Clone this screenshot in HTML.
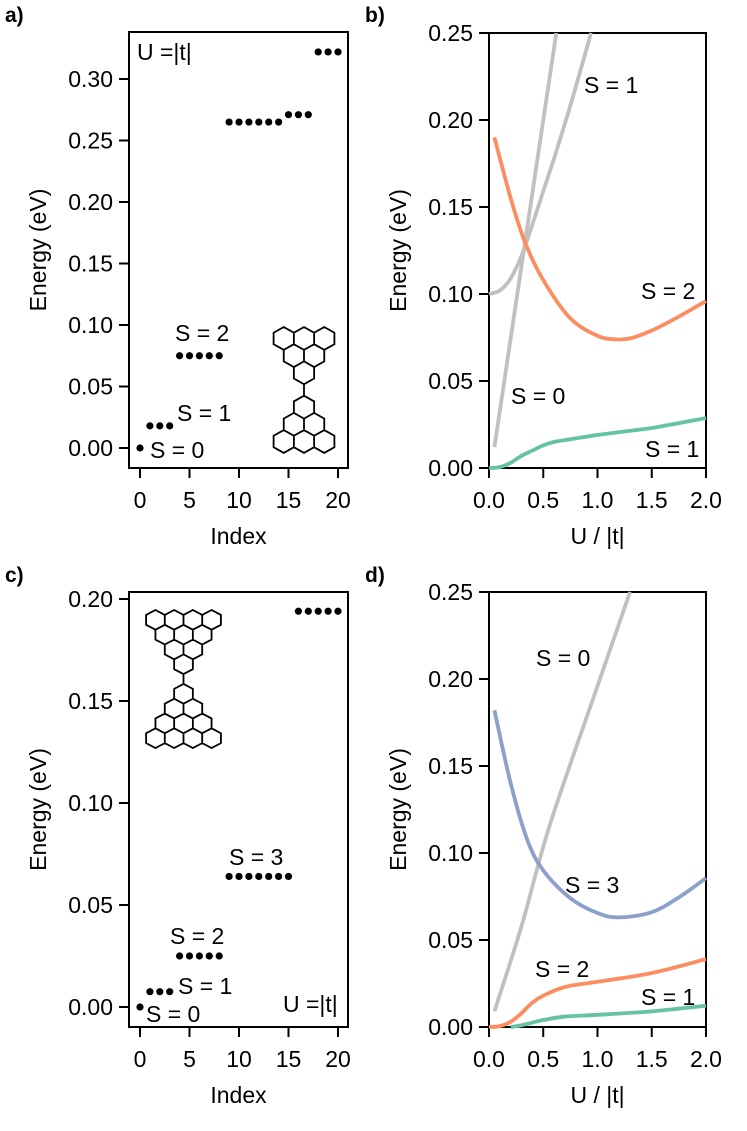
<!DOCTYPE html>
<html><head><meta charset="utf-8">
<style>
html,body{margin:0;padding:0;background:#fff;}
svg{display:block;font-family:"Liberation Sans",Arial,sans-serif;}
</style></head>
<body>
<svg id="fig" width="747" height="1131" viewBox="0 0 747 1131" xmlns="http://www.w3.org/2000/svg">
<g id="root"></g>
</svg>
<script>
// ---------- data ----------
const aIndex = [0,1,2,3,4,5,6,7,8,9,10,11,12,13,14,15,16,17,18,19,20];
const aEnergy = [0,0.018,0.018,0.018,0.075,0.075,0.075,0.075,0.075,0.265,0.265,0.265,0.265,0.265,0.265,0.271,0.271,0.271,0.322,0.322,0.322];
const cIndex = [0,1,2,3,4,5,6,7,8,9,10,11,12,13,14,15,16,17,18,19,20];
const cEnergy = [0,0.0075,0.0075,0.0075,0.025,0.025,0.025,0.025,0.025,0.064,0.064,0.064,0.064,0.064,0.064,0.064,0.194,0.194,0.194,0.194,0.194];

const bGreenU = [0,0.1,0.2,0.3,0.4,0.5,0.6,0.75,1.0,1.25,1.5,1.75,2.0];
const bGreenE = [0,0.0005,0.003,0.007,0.010,0.013,0.015,0.0165,0.019,0.021,0.023,0.0258,0.0287];
const bOrangeU = [0.05,0.2,0.33,0.5,0.75,1.0,1.15,1.3,1.5,1.75,2.0];
const bOrangeE = [0.19,0.155,0.13,0.108,0.086,0.076,0.074,0.0745,0.079,0.087,0.096];
const bGray0U = [0.05,0.62];
const bGray0E = [0.012,0.25];
const bGray1U = [0,0.1,0.2,0.3,0.4,0.5,0.6,0.7,0.8,0.94];
const bGray1E = [0.100,0.102,0.109,0.122,0.140,0.159,0.178,0.198,0.219,0.25];

const dGrayU = [0.05,0.3,0.56,1.0,1.3];
const dGrayE = [0.009,0.058,0.116,0.196,0.25];
const dBlueU = [0.05,0.2,0.35,0.5,0.75,1.0,1.2,1.5,1.75,2.0];
const dBlueE = [0.182,0.14,0.108,0.090,0.074,0.0655,0.063,0.066,0.0745,0.0856];
const dOrangeU = [0,0.1,0.2,0.3,0.4,0.5,0.7,1.0,1.5,2.0];
const dOrangeE = [0,0.0005,0.003,0.008,0.014,0.018,0.023,0.026,0.031,0.039];
const dGreenU = [0.2,0.3,0.5,0.7,1.0,1.5,2.0];
const dGreenE = [0,0.001,0.004,0.006,0.007,0.009,0.0122];

const idxTicks = [0,5,10,15,20];
const aYTicks = ["0.00","0.05","0.10","0.15","0.20","0.25","0.30"];
const cYTicks = ["0.00","0.05","0.10","0.15","0.20"];
const uTicks = ["0.0","0.5","1.0","1.5","2.0"];
const bYTicks = ["0.00","0.05","0.10","0.15","0.20","0.25"];

// ---------- helpers ----------
const NS="http://www.w3.org/2000/svg";
const root=document.getElementById('root');
const FS=23;
function mk(tag,attrs,parent){const e=document.createElementNS(NS,tag);for(const k in attrs)e.setAttribute(k,attrs[k]);(parent||root).appendChild(e);return e;}
function lin(d0,d1,r0,r1){return v=>r0+(v-d0)*(r1-r0)/(d1-d0);}
function smooth(pts){
  if(pts.length<3){return "M"+pts.map(p=>p[0].toFixed(2)+","+p[1].toFixed(2)).join("L");}
  let d="M"+pts[0][0]+","+pts[0][1];
  for(let i=0;i<pts.length-1;i++){
    const p0=pts[Math.max(0,i-1)],p1=pts[i],p2=pts[i+1],p3=pts[Math.min(pts.length-1,i+2)];
    const c1=[p1[0]+(p2[0]-p0[0])/6,p1[1]+(p2[1]-p0[1])/6];
    const c2=[p2[0]-(p3[0]-p1[0])/6,p2[1]-(p3[1]-p1[1])/6];
    d+="C"+c1.join(",")+" "+c2.join(",")+" "+p2.join(",");
  }
  return d;
}

function axes(name,L,R,T,B,xs,ys,xTicks,xLab,yTicks,xTitle,yTitle,panelLbl,panelY){
  const g=mk('g',{});
  
  
  const fr=mk('rect',{x:L,y:T,width:R-L,height:B-T,fill:'none',stroke:'#000','stroke-width':2},g);
  
  
  xTicks.forEach((v,i)=>{
    const x=xs(v);
    const t=mk('line',{x1:x,x2:x,y1:B,y2:B+10,stroke:'#000','stroke-width':2},g);
    
    
    const tx=mk('text',{x:x,y:B+40,'font-size':FS,'text-anchor':'middle'},g);
    tx.textContent=xLab[i];
    
    
  });
  yTicks.forEach((lab)=>{
    const y=ys(parseFloat(lab));
    const t=mk('line',{x1:L-10,x2:L,y1:y,y2:y,stroke:'#000','stroke-width':2},g);
    
    
    const tx=mk('text',{x:L-16,y:y+8,'font-size':FS,'text-anchor':'end'},g);
    tx.textContent=lab;
    
    
  });
  const xt=mk('text',{x:(L+R)/2,y:B+76,'font-size':FS,'text-anchor':'middle'},g);
  xt.textContent=xTitle;
  
  
  const yx=L-83, yc=(T+B)/2;
  const yt=mk('text',{x:yx,y:yc,'font-size':FS,'text-anchor':'middle',transform:`rotate(-90 ${yx} ${yc})`},g);
  yt.textContent=yTitle;
  
  
  const pl=mk('text',{x:L-124,y:panelY,'font-size':21,'font-weight':'bold'},g);
  pl.textContent=panelLbl;
  
  
  return g;
}
function label(txt,x,y,name){
  const t=mk('text',{x:x,y:y,'font-size':FS});
  t.textContent=txt;
  
  
}
function dots(xsArr,ysArr,xs,ys,name){
  xsArr.forEach((v,i)=>{
    const c=mk('circle',{cx:xs(v),cy:ys(ysArr[i]),r:3.6,fill:'#000'});
    
    
  });
}
function curve(U,E,xs,ys,color,name){
  const p=mk('path',{d:smooth(U.map((u,i)=>[xs(u),ys(E[i])])),fill:'none',stroke:color,'stroke-width':3.8,'stroke-linecap':'butt'});
  
  
}
function hexPath(cx,cy,R,ry){
  let d="";
  for(let k=0;k<6;k++){const a=Math.PI/2+k*Math.PI/3;d+=(k?"L":"M")+(cx+R*Math.cos(a)).toFixed(2)+","+(cy-ry*Math.sin(a)).toFixed(2);}
  return d+"Z";
}
function molecule(n,cx,top,R,ry,name){
  const w=Math.sqrt(3)*R;
  let d="";
  const y0=top+ry;
  for(let r=0;r<n;r++){
    const cnt=n-r, cy=y0+1.5*ry*r;
    for(let k=0;k<cnt;k++){d+=hexPath(cx+(k-(cnt-1)/2)*w,cy,R,ry);}
  }
  const lastY=y0+1.5*ry*(n-1);
  const b0=lastY+ry, b1=b0+ry;
  d+="M"+cx+","+b0+"L"+cx+","+b1;
  const y1=b1+ry;
  for(let r=0;r<n;r++){
    const cnt=r+1, cy=y1+1.5*ry*r;
    for(let k=0;k<cnt;k++){d+=hexPath(cx+(k-(cnt-1)/2)*w,cy,R,ry);}
  }
  const p=mk('path',{d:d,fill:'none',stroke:'#000','stroke-width':1.8,'stroke-linejoin':'miter'});
  
  
}

// ---------- panel a ----------
{
  const xs=lin(0,20,140,338), ys=lin(0,0.30,448,79);
  axes('panel-a',129,348,32,468,xs,ys,idxTicks,idxTicks.map(String),aYTicks,'Index','Energy (eV)','a)',22);
  dots(aIndex,aEnergy,xs,ys,'energy-level-dot');
  label('U =|t|',137,60,'u-label');
  label('S = 2',175,341,'s2-label');
  label('S = 1',177,421,'s1-label');
  label('S = 0',150,458,'s0-label');
  molecule(3,304,327,11.7,11.45,'molecule-small');
}
// ---------- panel b ----------
{
  const xs=lin(0,2,489,706), ys=lin(0,0.25,468,33);
  axes('panel-b',489,706,33,468,xs,ys,uTicks.map(Number),uTicks,bYTicks,'U / |t|','Energy (eV)','b)',22);
  curve(bGray0U,bGray0E,xs,ys,'#c0c0c0','gray-s0-line');
  curve(bGray1U,bGray1E,xs,ys,'#c0c0c0','gray-s1-line');
  curve(bOrangeU,bOrangeE,xs,ys,'#fc8d62','orange-s2-line');
  curve(bGreenU,bGreenE,xs,ys,'#66c2a5','green-s1-line');
  label('S = 1',584,93,'s1-upper-label');
  label('S = 2',641,299,'s2-label');
  label('S = 0',511,404,'s0-label');
  label('S = 1',645,457,'s1-lower-label');
}
// ---------- panel c ----------
{
  const xs=lin(0,20,140,338), ys=lin(0,0.20,1007,599);
  axes('panel-c',129,348,592,1027,xs,ys,idxTicks,idxTicks.map(String),cYTicks,'Index','Energy (eV)','c)',582);
  dots(cIndex,cEnergy,xs,ys,'energy-level-dot');
  label('S = 3',229,865,'s3-label');
  label('S = 2',170,944,'s2-label');
  label('S = 1',178,994,'s1-label');
  label('S = 0',146,1022,'s0-label');
  label('U =|t|',283,1012,'u-label');
  molecule(4,183.5,610,10.8,9.86,'molecule-large');
}
// ---------- panel d ----------
{
  const xs=lin(0,2,489,706), ys=lin(0,0.25,1027,592);
  axes('panel-d',489,706,592,1027,xs,ys,uTicks.map(Number),uTicks,bYTicks,'U / |t|','Energy (eV)','d)',582);
  curve(dGrayU,dGrayE,xs,ys,'#c0c0c0','gray-s0-line');
  curve(dBlueU,dBlueE,xs,ys,'#8da0cb','blue-s3-line');
  curve(dOrangeU,dOrangeE,xs,ys,'#fc8d62','orange-s2-line');
  curve(dGreenU,dGreenE,xs,ys,'#66c2a5','green-s1-line');
  label('S = 0',536,666,'s0-label');
  label('S = 3',565,893,'s3-label');
  label('S = 2',535,977,'s2-label');
  label('S = 1',641,1005,'s1-label');
}
</script>
</body></html>
